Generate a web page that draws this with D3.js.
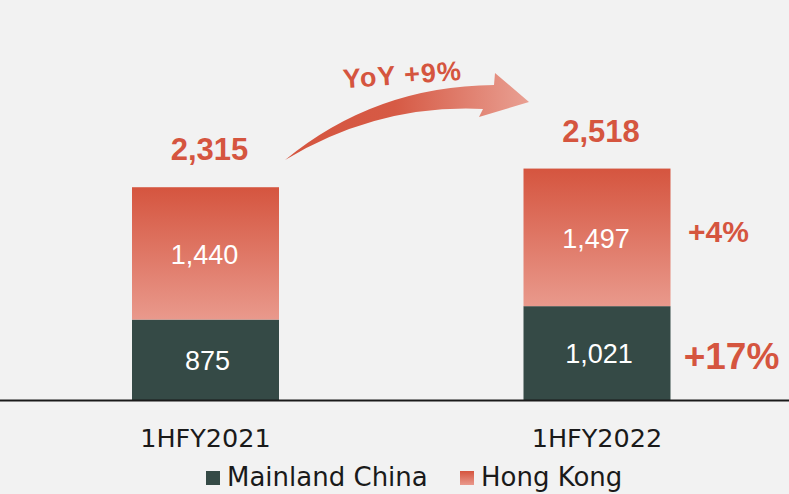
<!DOCTYPE html>
<html>
<head>
<meta charset="utf-8">
<script src="https://cdn.jsdelivr.net/npm/d3@7"></script>
<style>
  html, body { margin:0; padding:0; background:#f2f2f2; }
  svg { display:block; font-family:"Liberation Sans", Arial, sans-serif; }
</style>
</head>
<body>
<div id="chart"></div>
<script>
///////////////////////////// data /////////////////////////////
var periods = ["1HFY2021", "1HFY2022"];
var mainland = [875, 1021];
var hongkong = [1440, 1497];
var totals = [2315, 2518];
var growthMainland = "+17%";
var growthHK = "+4%";
var yoyLabel = "YoY +9%";
var seriesNames = ["Mainland China", "Hong Kong"];

///////////////////////////// layout /////////////////////////////
var wdim = 789, hdim = 494;
var base = 400, barW = 147;
var dark = "#354a46", red = "#d5553f", redLight = "#e9998c";
var fmt = d3.format(",");
var wideFont = "'DejaVu Sans', sans-serif";

var svg = d3.select("#chart").append("svg")
  .attr("width", wdim).attr("height", hdim);

svg.append("rect").attr("width", wdim).attr("height", hdim).attr("fill", "#f2f2f2");

var defs = svg.append("defs");
var g1 = defs.append("linearGradient").attr("id", "hkGrad")
  .attr("x1", 0).attr("y1", 0).attr("x2", 0).attr("y2", 1);
g1.append("stop").attr("offset", "0%").attr("stop-color", red);
g1.append("stop").attr("offset", "100%").attr("stop-color", redLight);

var g2 = defs.append("linearGradient").attr("id", "arrowGrad")
  .attr("x1", 0).attr("y1", 0).attr("x2", 1).attr("y2", 0);
g2.append("stop").attr("offset", "0%").attr("stop-color", red);
g2.append("stop").attr("offset", "45%").attr("stop-color", "#d65a45");
g2.append("stop").attr("offset", "100%").attr("stop-color", "#e9a093");

var x = d3.scalePoint().domain(periods).range([205.5, 597]);
var y = d3.scaleLinear().domain([0, 2720]).range([base, 150]);

var rows = periods.map(function(p, i){
  return {p:p, m:mainland[i], h:hongkong[i], t:totals[i]};
});

// mainland segment
svg.selectAll("rect.ml").data(rows).enter().append("rect")
  .attr("class", "ml")
  .attr("x", function(d){ return x(d.p) - barW/2; })
  .attr("y", function(d){ return y(d.m); })
  .attr("width", barW)
  .attr("height", function(d){ return y(0) - y(d.m); })
  .attr("fill", dark);

// hong kong segment
svg.selectAll("rect.hk").data(rows).enter().append("rect")
  .attr("class", "hk")
  .attr("x", function(d){ return x(d.p) - barW/2; })
  .attr("y", function(d){ return y(d.m + d.h); })
  .attr("width", barW)
  .attr("height", function(d){ return y(d.m) - y(d.m + d.h); })
  .attr("fill", "url(#hkGrad)");

// segment values
svg.selectAll("text.mlv").data(rows).enter().append("text")
  .attr("x", function(d){ return x(d.p) + 2; })
  .attr("y", function(d){ return (y(0) + y(d.m))/2 + 10; })
  .attr("text-anchor", "middle").attr("font-size", 27).attr("fill", "#fff")
  .text(function(d){ return fmt(d.m); });

svg.selectAll("text.hkv").data(rows).enter().append("text")
  .attr("x", function(d){ return x(d.p) - 1; })
  .attr("y", function(d){ return (y(d.m) + y(d.m + d.h))/2 + 11; })
  .attr("text-anchor", "middle").attr("font-size", 27).attr("fill", "#fff")
  .text(function(d){ return fmt(d.h); });

// totals
svg.selectAll("text.tot").data(rows).enter().append("text")
  .attr("x", function(d){ return x(d.p) + 4; })
  .attr("y", function(d){ return y(d.t) - 27; })
  .attr("text-anchor", "middle").attr("font-size", 31).attr("font-weight", "bold")
  .attr("fill", red)
  .text(function(d){ return fmt(d.t); });

// growth labels next to second bar
var last = rows[rows.length - 1];
svg.append("text")
  .attr("x", x(last.p) + barW/2 + 48).attr("y", (y(last.m) + y(last.t))/2 + 5)
  .attr("text-anchor", "middle").attr("font-size", 30).attr("font-weight", "bold")
  .attr("fill", red).text(growthHK);
svg.append("text")
  .attr("x", x(last.p) + barW/2 + 61).attr("y", (y(0) + y(last.m))/2 + 16)
  .attr("text-anchor", "middle").attr("font-size", 37).attr("font-weight", "bold")
  .attr("fill", red).text(growthMainland);

// baseline
svg.append("line").attr("x1", 0).attr("x2", wdim)
  .attr("y1", base + 0.5).attr("y2", base + 0.5)
  .attr("stroke", "#1a1a1a").attr("stroke-width", 1.8);

// category labels
svg.selectAll("text.cat").data(periods).enter().append("text")
  .attr("x", function(d){ return x(d); }).attr("y", base + 47)
  .attr("text-anchor", "middle").attr("font-size", 25.5).attr("fill", "#1a1a1a")
  .attr("font-family", wideFont)
  .text(function(d){ return d; });

// legend
var leg = [{n:seriesNames[0], c:dark, x:206}, {n:seriesNames[1], c:"url(#hkGrad)", x:460}];
var lg = svg.selectAll("g.leg").data(leg).enter().append("g")
  .attr("transform", function(d){ return "translate(" + d.x + ",471)"; });
lg.append("rect").attr("width", 14).attr("height", 14).attr("fill", function(d){ return d.c; });
lg.append("text").attr("x", 21).attr("y", 15).attr("font-size", 26).attr("fill", "#1a1a1a")
  .attr("font-family", wideFont)
  .text(function(d){ return d.n; });

// YoY arrow
var arrow = d3.path();
arrow.moveTo(285, 160);
arrow.quadraticCurveTo(375, 86, 494, 85);
arrow.lineTo(495, 73);
arrow.lineTo(529, 102);
arrow.lineTo(479, 117);
arrow.lineTo(483, 109);
arrow.quadraticCurveTo(378, 104, 285, 160);
arrow.closePath();
svg.append("path").attr("d", arrow.toString()).attr("fill", "url(#arrowGrad)");

svg.append("text")
  .attr("transform", "translate(403,84) rotate(-4)")
  .attr("text-anchor", "middle").attr("font-size", 27).attr("font-weight", "bold")
  .attr("letter-spacing", 1).attr("fill", red)
  .text(yoyLabel);
</script>
</body>
</html>
